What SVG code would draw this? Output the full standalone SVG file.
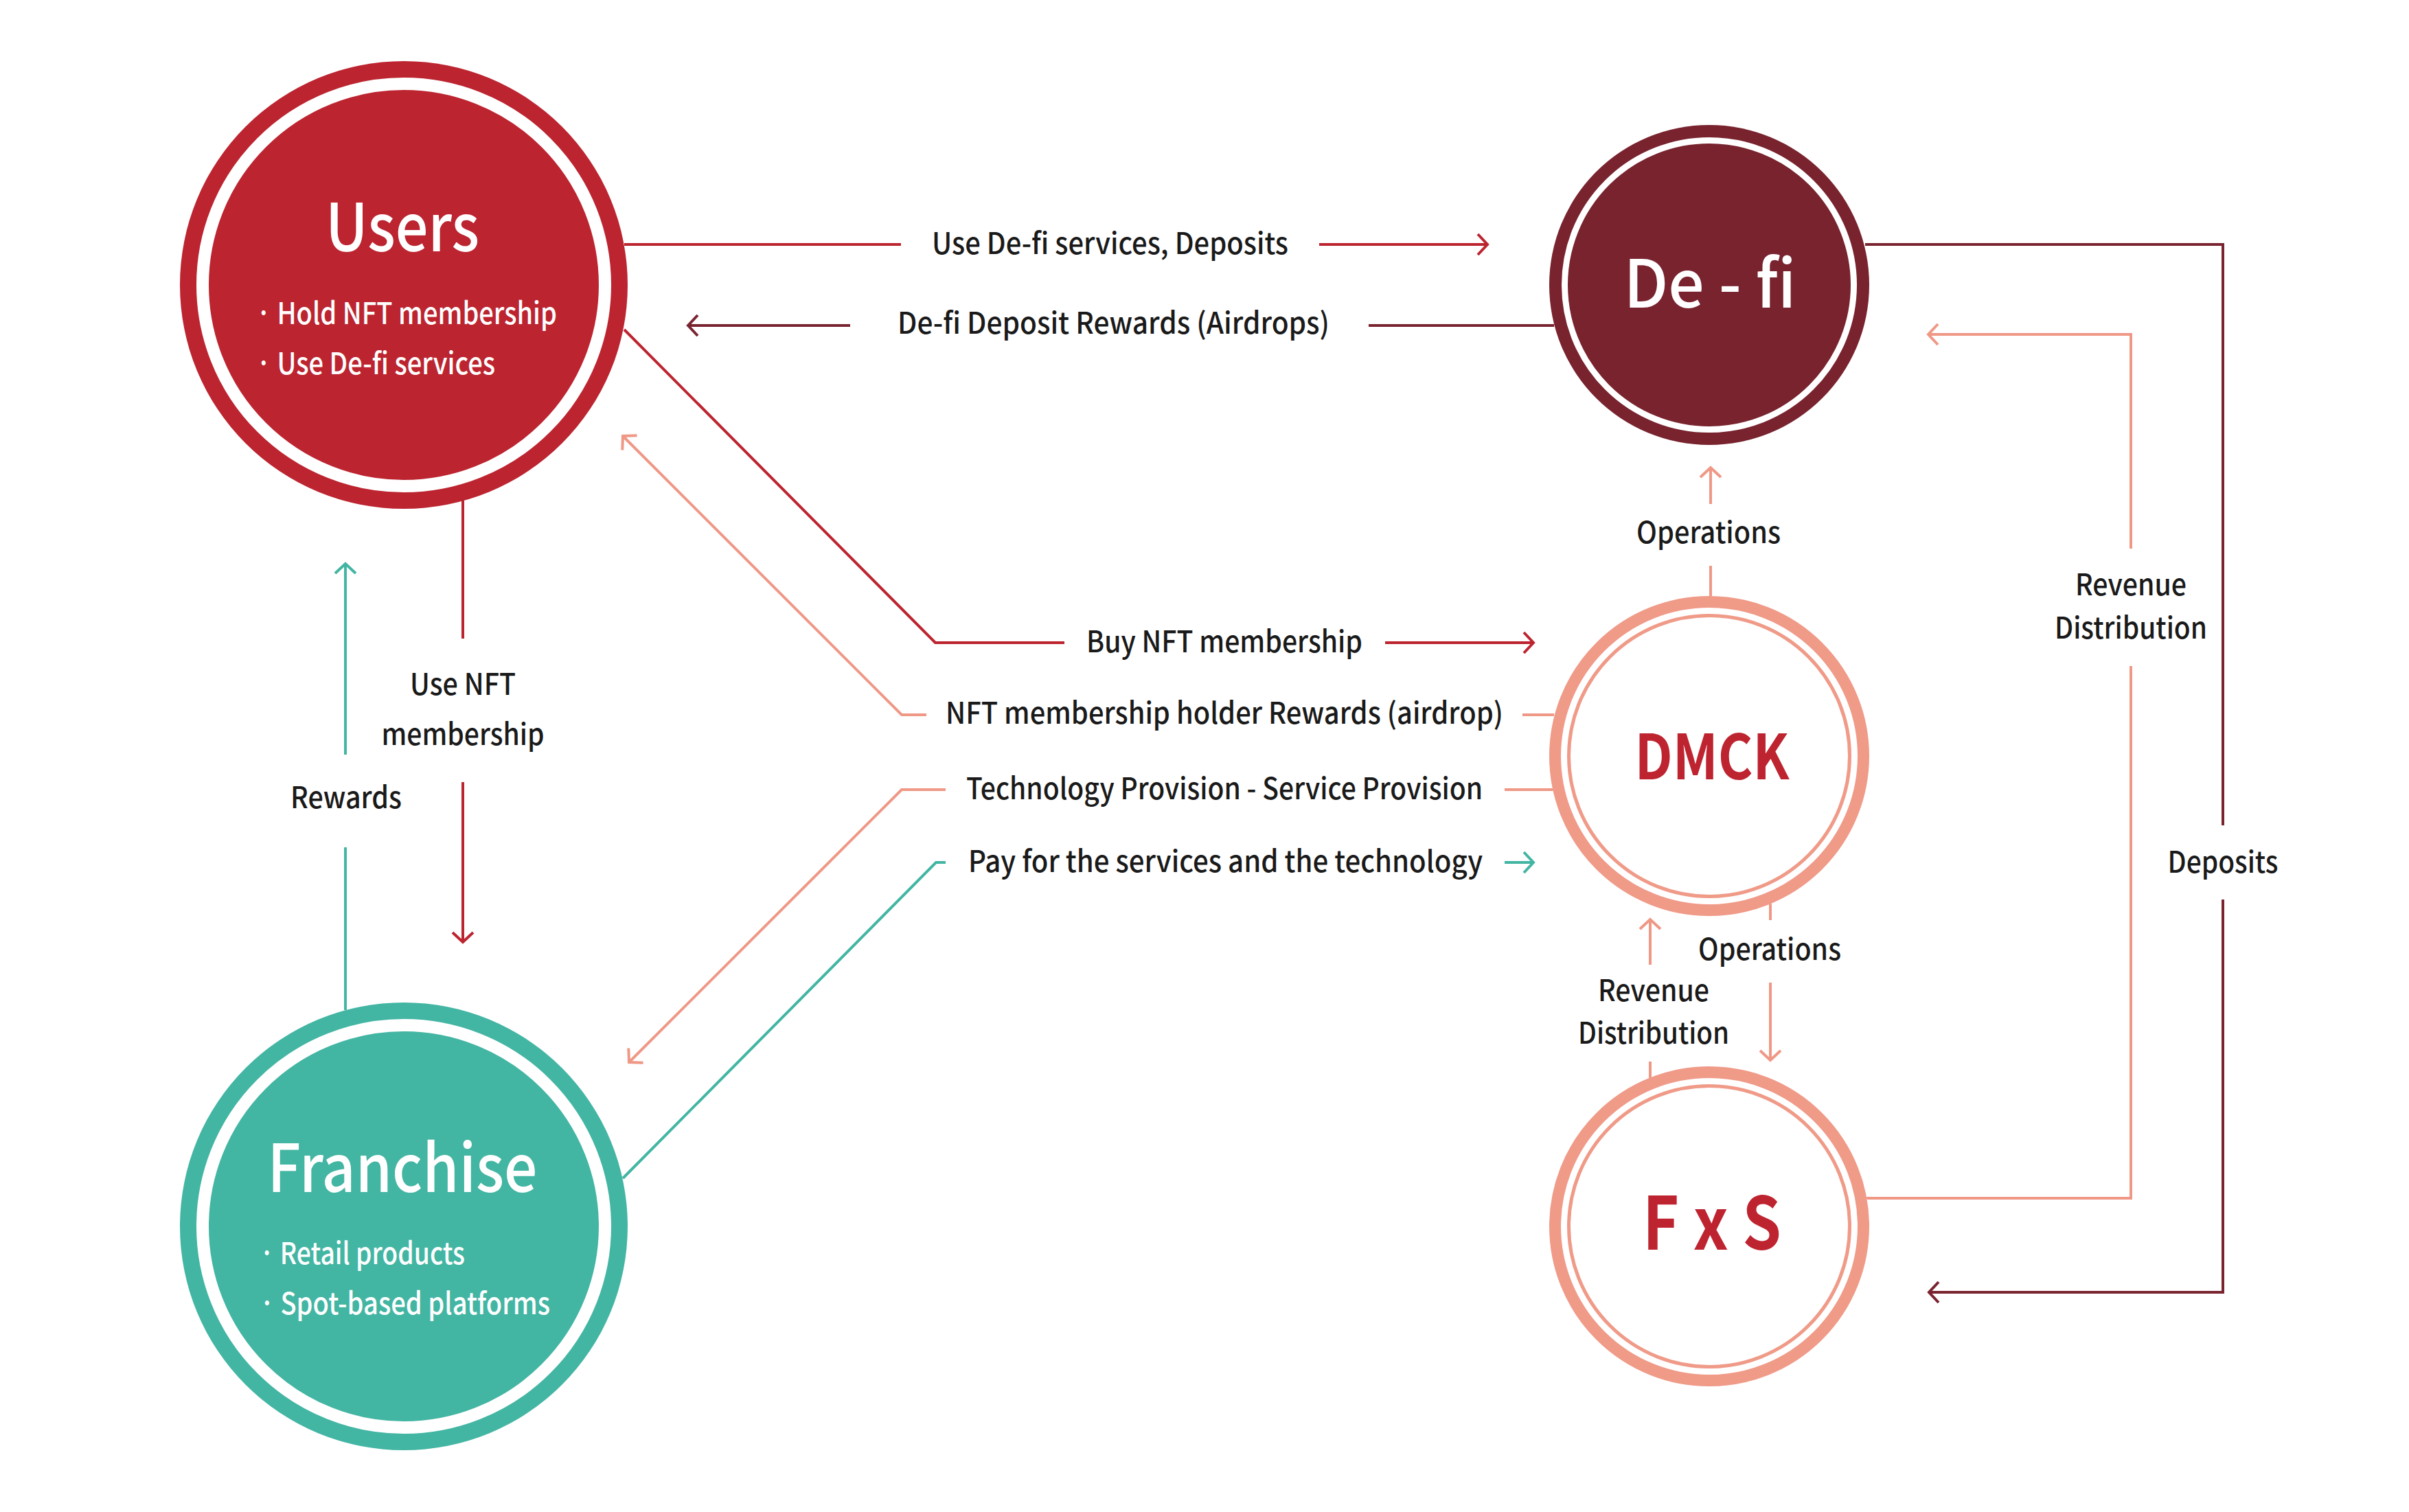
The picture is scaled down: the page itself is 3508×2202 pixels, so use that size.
<svg xmlns="http://www.w3.org/2000/svg" width="3508" height="2202" viewBox="0 0 3508 2202">
<style>
.t{font-family:"Noto Sans CJK KR","Noto Sans",sans-serif;font-weight:500;}
.lbl{font-size:43px;fill:#1a1a1a;}
.title{font-size:96px;fill:#fff;}
.bul{font-size:44px;fill:#fff;}
.bold{font-size:90px;font-weight:bold;fill:#BE2430;}
.c{fill:none;stroke-width:4;}
.red{stroke:#BC2430;}
.mar{stroke:#7A2430;}
.sal{stroke:#EF9886;}
.teal{stroke:#43B5A3;}
</style>
<defs>
<marker id="aR" viewBox="0 0 40 40" refX="20" refY="20" markerWidth="40" markerHeight="40" markerUnits="userSpaceOnUse" orient="auto"><path d="M6,5 L20,20 L6,35" fill="none" stroke="#BC2430" stroke-width="4"/></marker>
<marker id="aM" viewBox="0 0 40 40" refX="20" refY="20" markerWidth="40" markerHeight="40" markerUnits="userSpaceOnUse" orient="auto"><path d="M6,5 L20,20 L6,35" fill="none" stroke="#7A2430" stroke-width="4"/></marker>
<marker id="aS" viewBox="0 0 40 40" refX="20" refY="20" markerWidth="40" markerHeight="40" markerUnits="userSpaceOnUse" orient="auto"><path d="M6,5 L20,20 L6,35" fill="none" stroke="#EF9886" stroke-width="4"/></marker>
<marker id="aT" viewBox="0 0 40 40" refX="20" refY="20" markerWidth="40" markerHeight="40" markerUnits="userSpaceOnUse" orient="auto"><path d="M6,5 L20,20 L6,35" fill="none" stroke="#43B5A3" stroke-width="4"/></marker>
</defs>
<rect width="3508" height="2202" fill="#fff"/>

<g id="connectors">
<path class="c red" d="M909,356 H1312 M1921,356 H2166" marker-end="url(#aR)"/>
<path class="c red" d="M909,480 L1362,936 H1550 M2017,936 H2233" marker-end="url(#aR)"/>
<path class="c red" d="M674,729 V930 M674,1139 V1372" marker-end="url(#aR)"/>
<path class="c mar" d="M2263,474 H1993 M1238,474 H1002" marker-end="url(#aM)"/>
<path class="c mar" d="M2716,356 H3237 V1202 M3237,1310 V1882 H2809" marker-end="url(#aM)"/>
<path class="c sal" d="M2263,1041 H2217 M1349,1041 H1313 L907,635" marker-end="url(#aS)"/>
<path class="c sal" d="M2263,1150 H2191 M1377,1150 H1313 L916,1547" marker-end="url(#aS)"/>
<path class="c sal" d="M2491,868 V824 M2491,734 V681" marker-end="url(#aS)"/>
<path class="c sal" d="M2718,1745 H3103 V970 M3103,799 V487 H2808" marker-end="url(#aS)"/>
<path class="c sal" d="M2403,1570 V1546 M2403,1405 V1339" marker-end="url(#aS)"/>
<path class="c sal" d="M2578,1316 V1340 M2578,1431 V1544" marker-end="url(#aS)"/>
<path class="c teal" d="M503,1471 V1234 M503,1099 V821" marker-end="url(#aT)"/>
<path class="c teal" d="M907,1716 L1363,1256 H1377 M2191,1256 H2233" marker-end="url(#aT)"/>
</g>

<g id="labels" class="t lbl">
<text x="1357" y="370" textLength="519" lengthAdjust="spacingAndGlyphs">Use De-fi services, Deposits</text>
<text x="1307" y="486" textLength="629" lengthAdjust="spacingAndGlyphs">De-fi Deposit Rewards (Airdrops)</text>
<text x="1582" y="950" textLength="402" lengthAdjust="spacingAndGlyphs">Buy NFT membership</text>
<text x="1377" y="1054" textLength="812" lengthAdjust="spacingAndGlyphs">NFT membership holder Rewards (airdrop)</text>
<text x="1407" y="1164" textLength="752" lengthAdjust="spacingAndGlyphs">Technology Provision - Service Provision</text>
<text x="1410" y="1270" textLength="749" lengthAdjust="spacingAndGlyphs">Pay for the services and the technology</text>
<text x="2488" y="791" text-anchor="middle" textLength="210" lengthAdjust="spacingAndGlyphs">Operations</text>
<text x="3103" y="867" text-anchor="middle" textLength="162" lengthAdjust="spacingAndGlyphs">Revenue</text>
<text x="3103" y="930" text-anchor="middle" textLength="222" lengthAdjust="spacingAndGlyphs">Distribution</text>
<text x="3237" y="1271" text-anchor="middle" textLength="161" lengthAdjust="spacingAndGlyphs">Deposits</text>
<text x="2577" y="1398" text-anchor="middle" textLength="208" lengthAdjust="spacingAndGlyphs">Operations</text>
<text x="2408" y="1458" text-anchor="middle" textLength="162" lengthAdjust="spacingAndGlyphs">Revenue</text>
<text x="2408" y="1520" text-anchor="middle" textLength="220" lengthAdjust="spacingAndGlyphs">Distribution</text>
<text x="674" y="1012" text-anchor="middle" textLength="154" lengthAdjust="spacingAndGlyphs">Use NFT</text>
<text x="674" y="1085" text-anchor="middle" textLength="237" lengthAdjust="spacingAndGlyphs">membership</text>
<text x="504" y="1177" text-anchor="middle" textLength="162" lengthAdjust="spacingAndGlyphs">Rewards</text>
</g>

<g id="users">
<circle cx="588" cy="415" r="326" fill="#BC2430"/>
<circle cx="588" cy="415" r="293" fill="none" stroke="#fff" stroke-width="18"/>
<text class="t title" x="586" y="366" text-anchor="middle" textLength="224" lengthAdjust="spacingAndGlyphs">Users</text>
<text class="t bul" x="373" y="472" textLength="438" lengthAdjust="spacingAndGlyphs">· Hold NFT membership</text>
<text class="t bul" x="373" y="545" textLength="348" lengthAdjust="spacingAndGlyphs">· Use De-fi services</text>
</g>

<g id="franchise">
<circle cx="588" cy="1786" r="326" fill="#43B5A3"/>
<circle cx="588" cy="1786" r="293" fill="none" stroke="#fff" stroke-width="18"/>
<text class="t title" x="586" y="1736" text-anchor="middle" textLength="393" lengthAdjust="spacingAndGlyphs">Franchise</text>
<text class="t bul" x="378" y="1841" textLength="299" lengthAdjust="spacingAndGlyphs">· Retail products</text>
<text class="t bul" x="378" y="1914" textLength="423" lengthAdjust="spacingAndGlyphs">· Spot-based platforms</text>
</g>

<g id="defi">
<circle cx="2489" cy="415" r="233" fill="#78232E"/>
<circle cx="2489" cy="415" r="210.5" fill="none" stroke="#fff" stroke-width="9"/>
<text class="t title" x="2490" y="448" text-anchor="middle" textLength="251" lengthAdjust="spacingAndGlyphs">De - fi</text>
</g>

<g id="dmck">
<circle cx="2489" cy="1101" r="233" fill="#fff"/>
<circle cx="2489" cy="1101" r="224.5" fill="none" stroke="#F09A88" stroke-width="17"/>
<circle cx="2489" cy="1101" r="204.5" fill="none" stroke="#F09A88" stroke-width="5"/>
<text class="t bold" x="2493" y="1135" text-anchor="middle" textLength="225" lengthAdjust="spacingAndGlyphs">DMCK</text>
</g>

<g id="fxs">
<circle cx="2489" cy="1786" r="233" fill="#fff"/>
<circle cx="2489" cy="1786" r="224.5" fill="none" stroke="#F09A88" stroke-width="17"/>
<circle cx="2489" cy="1786" r="204.5" fill="none" stroke="#F09A88" stroke-width="5"/>
<text class="t bold" x="2493" y="1820" text-anchor="middle" textLength="202" lengthAdjust="spacingAndGlyphs" style="font-size:106px">F x S</text>
</g>
</svg>
